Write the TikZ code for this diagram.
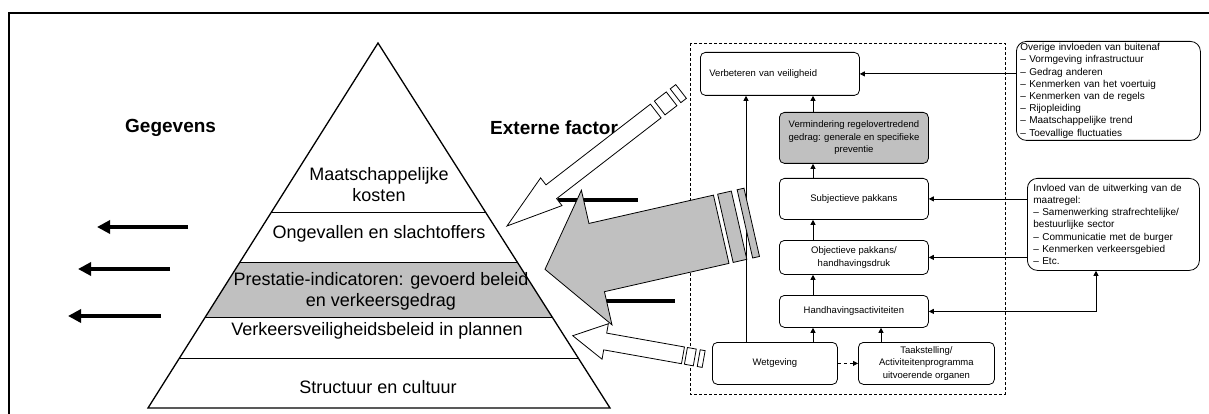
\documentclass[tikz,border=0pt]{standalone}
\usepackage{fontspec}
\setmainfont{Liberation Sans}
\usetikzlibrary{arrows.meta,calc}
\definecolor{boxgray}{HTML}{C0C0C0}
\begin{document}
\begin{tikzpicture}[x=1pt,y=-1pt,
  ptext/.style={font=\fontsize{18}{21}\selectfont, align=center, inner sep=0},
  htext/.style={font=\bfseries\fontsize{19}{22}\selectfont, anchor=west, inner sep=0},
  fbox/.style={draw, rounded corners=5pt, line width=0.8pt, font=\fontsize{9.5}{12.5}\selectfont, align=center, inner sep=0, anchor=north west},
  sbox/.style={draw, rounded corners=10pt, line width=0.8pt, font=\fontsize{10}{12.2}\selectfont, align=left, anchor=north west, inner ysep=0},
  farr/.style={-{Triangle[length=5pt,width=5pt]}, line width=0.8pt},
  farrtwo/.style={{Triangle[length=5pt,width=5pt]}-{Triangle[length=5pt,width=5pt]}, line width=0.8pt},
  bigarr/.style={-{Triangle[length=13pt,width=13pt]}, line width=4pt},
  thickline/.style={line width=4pt},
  blockarr/.style={draw, line width=0.8pt, line join=miter},
]
\useasboundingbox (0,0) rectangle (1209,414);
% frame
\draw[line width=2pt] (9,414) -- (9,13) -- (1209,13);

% pyramid
\fill[boxgray] (240,262) -- (517.2,262) -- (552.2,317) -- (205.3,317) -- cycle;
\draw[line width=0.9pt] (271.5,212) -- (485.4,212);
\draw[line width=0.9pt] (240,262) -- (517.2,262);
\draw[line width=0.9pt] (205.3,317) -- (552.2,317);
\draw[line width=0.9pt] (179.5,358) -- (578.2,358);
\draw[line width=1.3pt, line join=miter] (148,408) -- (378,43) -- (610,408) -- cycle;

\node[ptext] (t1) at (379,185) {Maatschappelijke\\kosten};
\node[ptext] (t2) at (379,234) {Ongevallen en slachtoffers};
\node[ptext] (t3) at (381,291) {Prestatie-indicatoren: gevoerd beleid\\en verkeersgedrag};
\node[ptext] (t4) at (377,331) {Verkeersveiligheidsbeleid in plannen};
\node[ptext] (t5) at (378,387) {Structuur en cultuur};

\node[htext] (geg) at (125,128) {Gegevens};
\node[htext] (ext) at (490,128) {Externe factor};

% left arrows
\coordinate (l1s) at (188,227); \coordinate (l1e) at (97,227);
\coordinate (l2s) at (170,269); \coordinate (l2e) at (78,269);
\coordinate (l3s) at (161,316); \coordinate (l3e) at (68,316);
\draw[bigarr] (l1s) -- (l1e);
\draw[bigarr] (l2s) -- (l2e);
\draw[bigarr] (l3s) -- (l3e);

% dashed frame
\draw[dash pattern=on 3pt off 2pt, line width=0.7pt] (690,43) rectangle (1005,394);

% flow chart
\node[fbox, minimum width=159, minimum height=43, text width=141, inner xsep=9, align=left] (verb) at (700,52) {Verbeteren van veiligheid};
\node[fbox, fill=boxgray, minimum width=149, minimum height=51] (verm) at (779,112) {Vermindering regelovertredend\\gedrag: generale en specifieke\\preventie};
\node[fbox, minimum width=149, minimum height=41] (subj) at (779,178) {Subjectieve pakkans};
\node[fbox, minimum width=149, minimum height=34] (obj) at (779,240) {Objectieve pakkans/\\handhavingsdruk};
\node[fbox, minimum width=149, minimum height=32] (hand) at (779,295) {Handhavingsactiviteiten};
\node[fbox, minimum width=125, minimum height=42] (weg) at (712,342) {Wetgeving};
\node[fbox, minimum width=136, minimum height=42] (taak) at (858,342) {Taakstelling/\\Activiteitenprogramma\\uitvoerende organen};

\node[sbox, minimum width=184, minimum height=99, text width=176, inner xsep=4] (ov) at (1016,41) {Overige invloeden van buitenaf\\– Vormgeving infrastructuur\\– Gedrag anderen\\– Kenmerken van het voertuig\\– Kenmerken van de regels\\– Rijopleiding\\– Maatschappelijke trend\\– Toevallige fluctuaties};
\node[sbox, minimum width=172, minimum height=92, text width=160, inner xsep=6] (inv) at (1027,178) {Invloed van de uitwerking van de\\maatregel:\\– Samenwerking strafrechtelijke/\\bestuurlijke sector\\– Communicatie met de burger\\– Kenmerken verkeersgebied\\– Etc.};

\coordinate (ca) at (746,0);
\coordinate (cb) at (813,0);
\coordinate (cc) at (881,0);
\coordinate (cd) at (1096,0);
\draw[farr] (weg.north -| ca) -- (verb.south -| ca);
\draw[farr] (verm.north -| cb) -- (verb.south -| cb);
\draw[farr] (subj.north -| cb) -- (verm.south -| cb);
\draw[farr] (obj.north -| cb) -- (subj.south -| cb);
\draw[farr] (hand.north -| cb) -- (obj.south -| cb);
\draw[farr] (weg.north -| cb) -- (hand.south -| cb);
\draw[farr] (taak.north -| cc) -- (hand.south -| cc);
\draw[farr, dashed] (weg.east) -- (taak.west);
\draw[farr] (ov.west |- verb.east) -- (verb.east);
\draw[farr] (inv.west |- subj.east) -- (subj.east);
\draw[farr] (inv.west |- obj.east) -- (obj.east);
\draw[farrtwo] (hand.east) -| (cd |- inv.south);

% thick black lines
\coordinate (k1s) at (558,200); \coordinate (k1e) at (638,200);
\coordinate (k2s) at (604,301); \coordinate (k2e) at (675,301);
\draw[thickline] (k1s) -- (k1e);
\draw[thickline] (k2s) -- (k2e);

% white arrow 1
\begin{scope}[shift={(507,226)}, rotate=217.7]
 \draw[blockarr, fill=white] (0,0) -- (-56,-17.5) -- (-56,-8.7) -- (-188,-8.7) -- (-188,8.7) -- (-56,8.7) -- (-56,17.5) -- cycle;
 \draw[blockarr, fill=white] (-193,-8.7) rectangle (-208,8.7);
 \draw[blockarr, fill=white] (-213,-8.7) rectangle (-220,8.7);
\end{scope}

% gray arrow
\begin{scope}[shift={(545,269.3)}, rotate=192.8]
 \draw[blockarr, fill=boxgray] (0,0) -- (-53,-69) -- (-53,-35) -- (-180.7,-35) -- (-180.7,35) -- (-53,35) -- (-53,69) -- cycle;
 \draw[blockarr, fill=boxgray] (-185,-35) rectangle (-199,35);
 \draw[blockarr, fill=boxgray] (-205,-35) rectangle (-212,35);
\end{scope}

% white arrow 2
\begin{scope}[shift={(572.7,335.7)}, rotate=169.9]
 \draw[blockarr, fill=white] (0,0) -- (-33,-18) -- (-33,-8.5) -- (-112,-8.5) -- (-112,8.5) -- (-33,8.5) -- (-33,18) -- cycle;
 \draw[blockarr, fill=white] (-115,-8.5) rectangle (-124,8.5);
 \draw[blockarr, fill=white] (-128,-8.5) rectangle (-133,8.5);
\end{scope}
\end{tikzpicture}
\end{document}
